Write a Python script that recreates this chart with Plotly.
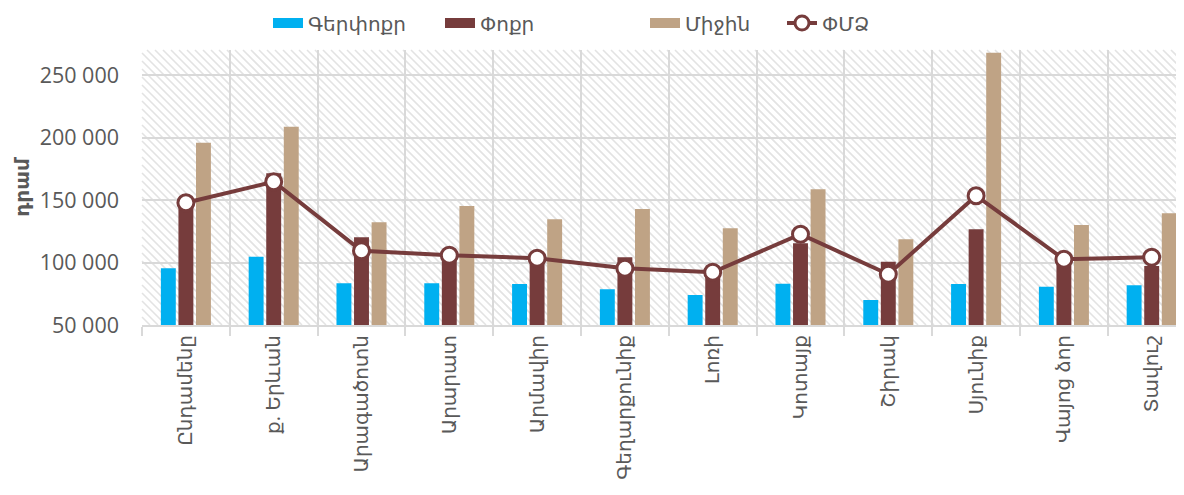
import plotly.graph_objects as go

categories = ["Ընդամենը", "ք. Երևան", "Արագածոտն", "Արարատ", "Արմավիր", "Գեղարքունիք",
              "Լոռի", "Կոտայք", "Շիրակ", "Սյունիք", "Վայոց ձոր", "Տավուշ"]
micro = [95500, 104600, 83400, 83400, 82800, 78600, 74000, 83000, 70000, 82800, 80600, 81800]
small = [147000, 171400, 120200, 107000, 104500, 104200, 94000, 115400, 100600, 126600, 101000, 97200]
medium = [195800, 208600, 132200, 145200, 134600, 142800, 127400, 158600, 118600, 267800, 130000, 139400]
sme = [147800, 164600, 109400, 105800, 103400, 95400, 92200, 122600, 90600, 153400, 102600, 104200]
series_names = ["Գերփոքր", "Փոքր", "Միջին", "ՓՄՁ"]
y_ticks = [50000, 100000, 150000, 200000, 250000]

C_BLUE = "#00B0F0"
C_BROWN = "#763C3C"
C_TAN = "#BFA385"
FONT = "Open Sans, DejaVu Sans, sans-serif"

# page body has an 8px margin, so the figure is drawn 8px right/down
W, H = 1176, 487
ML, MR, MT, MB = 134, 0, 42, 170
PW, PH = W - ML - MR, H - MT - MB
CAT_W = 87.8

fig = go.Figure()
for name, vals, col in [(series_names[0], micro, C_BLUE),
                        (series_names[1], small, C_BROWN),
                        (series_names[2], medium, C_TAN)]:
    fig.add_trace(go.Bar(x=categories, y=vals, name=name, marker_color=col,
                         marker_line_width=0, showlegend=False))

fig.add_trace(go.Scatter(x=categories, y=sme, name=series_names[3], mode="lines+markers",
                         line=dict(color=C_BROWN, width=4),
                         marker=dict(size=16, color="white", line=dict(color=C_BROWN, width=3)),
                         showlegend=False))

# legend entries, each in its own legend box for exact placement
legend_x_px = [260, 432, 637, 774]
legend_ids = ["legend", "legend2", "legend3", "legend4"]
for i, (name, col) in enumerate([(series_names[0], C_BLUE), (series_names[1], C_BROWN), (series_names[2], C_TAN)]):
    fig.add_trace(go.Scatter(x=[None], y=[None], mode="lines", name=name, legend=legend_ids[i],
                             line=dict(color=col, width=15)))
fig.add_trace(go.Scatter(x=[None], y=[None], mode="lines+markers", name=series_names[3], legend=legend_ids[3],
                         line=dict(color=C_BROWN, width=4),
                         marker=dict(size=14, color="white", line=dict(color=C_BROWN, width=3))))

# hatch background pattern (paper coords of plot area)
parts = []
step = 8
c = -PH
while c < PW:
    x0 = max(c, 0)
    x1 = min(c + PH, PW)
    if x1 > x0:
        parts.append("M%.5f,%.5f L%.5f,%.5f" % (x0 / PW, 1 - (x0 - c) / PH, x1 / PW, 1 - (x1 - c) / PH))
    c += step
fig.add_shape(type="path", path=" ".join(parts), xref="paper", yref="paper",
              line=dict(color="#e3e3e3", width=1.6), layer="below")

legend_common = dict(orientation="h", xanchor="left", y=1 + (MT - 15) / PH, yanchor="middle",
                     font=dict(size=20, color="#595959"), bgcolor="rgba(0,0,0,0)")
layout_legends = {}
for lid, xp in zip(legend_ids, legend_x_px):
    layout_legends[lid] = dict(x=(xp - ML) / PW, **legend_common)

fig.update_layout(
    width=W, height=H,
    margin=dict(l=ML, r=MR, t=MT, b=MB, autoexpand=False),
    paper_bgcolor="white", plot_bgcolor="white",
    barmode="group", bargap=0.40, bargroupgap=0.15,
    separators=", ",
    font=dict(family=FONT, size=20, color="#595959"),
    showlegend=True,
    **layout_legends,
)
fig.update_xaxes(range=[-0.5, -0.5 + PW / CAT_W], tickangle=-90, automargin=False,
                 showgrid=True, gridcolor="#d9d9d9", gridwidth=1.5,
                 tickson="boundaries", ticks="outside", ticklen=9, tickcolor="#d9d9d9", tickwidth=1.5,
                 showline=True, linecolor="#d9d9d9", linewidth=2,
                 tickfont=dict(size=20, color="#595959"))
fig.update_yaxes(range=[50000, 270000], tickvals=y_ticks, tickformat=",d", automargin=False,
                 showgrid=True, gridcolor="#d9d9d9", gridwidth=1.5, zeroline=False,
                 showline=False, ticklabelstandoff=22,
                 tickfont=dict(size=21.5, color="#595959"),
                 title=dict(text="<b>դրամ</b>", font=dict(size=20, color="#595959"), standoff=10))

fig.write_html("out.html")
